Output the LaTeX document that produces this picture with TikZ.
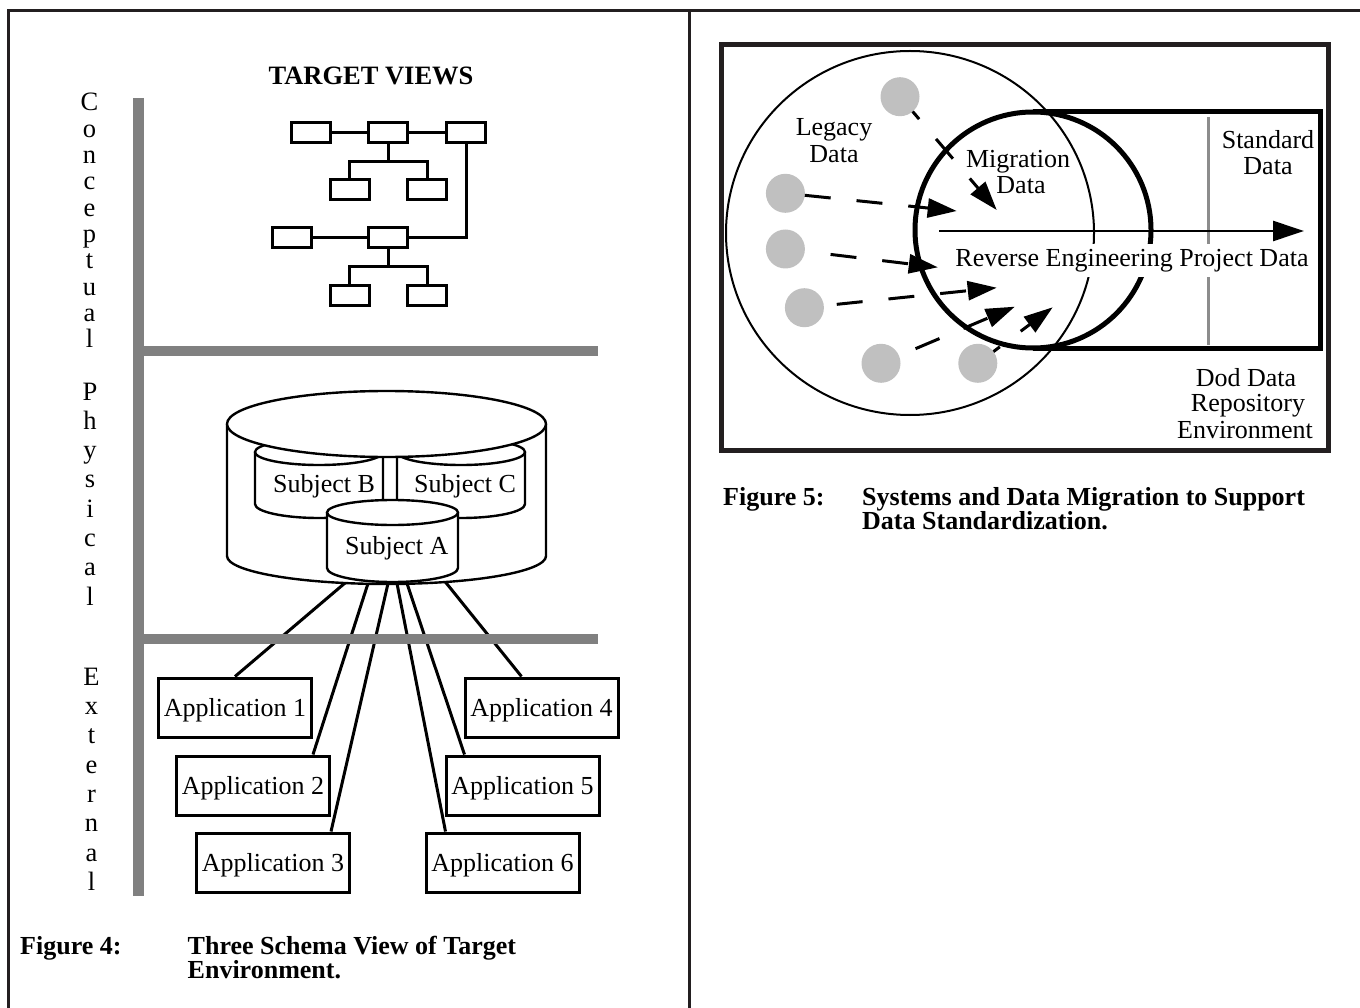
\documentclass[tikz,border=0pt]{standalone}
\usepackage{fontspec}
\setmainfont{Liberation Serif}
\usetikzlibrary{arrows.meta,calc}

\definecolor{ink}{HTML}{231F20}
\definecolor{bargray}{HTML}{808080}
\definecolor{dotgray}{HTML}{C0C0C0}
\definecolor{rulegray}{HTML}{8C8C8C}

% side walls and lower rim of a drum: centre x, lid centre y, base centre y, x radius, base y radius
\newcommand\drumwall[5]{%
  \filldraw[drum] ({#1-#4},#2) -- ({#1-#4},#3)
    .. controls ({#1-#4},{#3+0.5523*#5}) and ({#1-0.5523*#4},{#3+#5}) .. (#1,{#3+#5})
    .. controls ({#1+0.5523*#4},{#3+#5}) and ({#1+#4},{#3+0.5523*#5}) .. ({#1+#4},#3)
    -- ({#1+#4},#2);}
% elliptic lid of a drum: centre x, centre y, x radius, y radius
\newcommand\drumlid[4]{\filldraw[drum] (#1,#2) ellipse [x radius=#3, y radius=#4];}

\begin{document}
\begin{tikzpicture}[x=1pt,y=-1pt,
  frame/.style={draw=ink, line width=3pt},
  bar/.style={draw=bargray, line width=10.5pt},
  drum/.style={draw=black, fill=white, line width=2.4pt},
  tbox/.style={draw=black, line width=3pt, minimum width=39pt, minimum height=20pt, inner sep=0pt},
  tlink/.style={draw=black, line width=3pt},
  appbox/.style={draw=black, line width=3pt, minimum width=153pt, minimum height=59pt,
                 inner sep=0pt, text depth=0pt, font=\fontsize{26}{30}\selectfont},
  applink/.style={draw=black, line width=3pt},
  lbl/.style={inner sep=0pt, font=\fontsize{26}{30}\selectfont},
  vlet/.style={inner sep=0pt, anchor=base, font=\fontsize{26.5}{30}\selectfont},
  captext/.style={inner sep=0pt, anchor=base west, font=\fontsize{26}{30}\selectfont\bfseries},
  dot/.style={circle, fill=dotgray, minimum size=39pt, inner sep=0pt, outer sep=0pt},
  dart/.style={draw=black, line width=3pt, dash pattern=on 26pt off 26pt,
               -{Triangle[length=29pt,width=19pt]}},
]
\useasboundingbox (0,0) rectangle (1360,1008);

% ---------- page frame ----------
\draw[frame] (8,1008) -- (8,10.5) -- (1360,10.5);
\draw[frame] (689.3,10.5) -- (689.3,1008);

% ---------- Figure 4: three schema view ----------
\node[lbl, anchor=base, font=\fontsize{26.5}{30}\selectfont\bfseries] (tview) at (371,85) {TARGET VIEWS};

% conceptual layer: two linked hierarchies
\node[tbox] (tv1) at (311,133) {};
\node[tbox] (tv2) at (388,133) {};
\node[tbox] (tv3) at (466,133) {};
\node[tbox] (tv4) at (349.5,190) {};
\node[tbox] (tv5) at (427,190) {};
\node[tbox] (tv6) at (292,238) {};
\node[tbox] (tv7) at (388,238) {};
\node[tbox] (tv8) at (349.5,296) {};
\node[tbox] (tv9) at (427,296) {};
\coordinate (j1) at (388,162);
\coordinate (j2) at (388,267);
\draw[tlink] (tv1) -- (tv2);
\draw[tlink] (tv2) -- (tv3);
\draw[tlink] (tv2.south) -- (j1);
\draw[tlink] (tv4.north) -- (tv4.north |- j1) -- (tv5.north |- j1) -- (tv5.north);
\draw[tlink] (tv6) -- (tv7);
\draw[tlink] (tv7.east) -| (tv3.south);
\draw[tlink] (tv7.south) -- (j2);
\draw[tlink] (tv8.north) -- (tv8.north |- j2) -- (tv9.north |- j2) -- (tv9.north);

% external layer: applications
\node[appbox] (app1) at (235,707.5) {Application 1};
\node[appbox] (app2) at (253,785.5) {Application 2};
\node[appbox] (app3) at (273,862.5) {Application 3};
\node[appbox] (app4) at (541.5,707.5) {Application 4};
\node[appbox] (app5) at (522.5,785.5) {Application 5};
\node[appbox] (app6) at (502.5,862.5) {Application 6};

% links from the store to the applications
\coordinate (s1) at (345,583);
\coordinate (s2) at (368,583.5);
\coordinate (s3) at (388,583.5);
\coordinate (s4) at (445,581.5);
\coordinate (s5) at (407,583.5);
\coordinate (s6) at (397,583.5);
\draw[applink] (s1) -- (app1.north);
\draw[applink] (s2) -- ([xshift=-18pt]app2.north east);
\draw[applink] (s3) -- ([xshift=-20pt]app3.north east);
\draw[applink] (s4) -- ([xshift=-20pt]app4.north);
\draw[applink] (s5) -- ([xshift=20pt]app5.north west);
\draw[applink] (s6) -- ([xshift=21pt]app6.north west);

% physical layer: the store holding three subject areas
\drumwall{386.5}{424}{556}{159.5}{28}
\drumwall{319}{452}{504}{64}{14}
\drumlid{319}{452}{64}{13}
\drumwall{461}{452}{504}{64}{14}
\drumlid{461}{452}{64}{13}
\drumlid{386.5}{424}{159.5}{33}
\drumwall{392.5}{512.5}{568}{65.5}{14}
\drumlid{392.5}{512.5}{65.5}{12.5}
\node[lbl, anchor=base] (subb) at (324,492.7) {Subject B};
\node[lbl, anchor=base] (subc) at (465,492.7) {Subject C};
\node[lbl, anchor=base] (suba) at (396.7,554.3) {Subject A};

% layer separators
\draw[bar] (138.5,98) -- (138.5,896);
\draw[bar] (133.5,351) -- (598,351);
\draw[bar] (133.5,639) -- (598,639);

% layer names
\foreach \ch [count=\i from 0] in {C,o,n,c,e,p,t,u,a,l}
  \node[vlet] (con\i) at (89.5,{111+26.3*\i}) {\ch};
\foreach \ch [count=\i from 0] in {P,h,y,s,i,c,a,l}
  \node[vlet] (phy\i) at (90,{400+29.3*\i}) {\ch};
\foreach \ch [count=\i from 0] in {E,x,t,e,r,n,a,l}
  \node[vlet] (ext\i) at (91.5,{685.3+29.3*\i}) {\ch};

% caption
\node[captext] (cap4a) at (20,954) {Figure 4:};
\node[captext] (cap4b) at (187.5,954) {Three Schema View of Target};
\node[captext] (cap4c) at (187.5,978) {Environment.};

% ---------- Figure 5: data migration ----------
\node[draw=ink, line width=5pt, minimum width=607.5pt, minimum height=405.5pt,
      inner sep=0pt] (env) at (1024.75,247.25) {};

% legacy data region
\draw[line width=2pt] (910,233) ellipse [x radius=184, y radius=182];

% reverse engineering project data band
\node[circle, minimum size=236pt, inner sep=0pt, outer sep=0pt] (mig) at (1033,230) {};
\coordinate (rc) at (1320,348);
\draw[line width=5pt] (mig.north) -| (rc) -- (mig.south);
\draw[line width=5pt] (mig) circle [radius=118];
\draw[rulegray, line width=3pt] (1208.4,117) -- (1208.4,345);

\coordinate (hs) at (939,231);
\coordinate (he) at (1304,231);
\draw[line width=2.5pt, -{Triangle[length=31pt,width=20pt]}] (hs) -- (he);
\node[lbl, anchor=base, fill=white, inner xsep=2pt, inner ysep=5pt] (rev) at (1132,266.7)
  {Reverse Engineering Project Data};

% legacy systems and their migration paths
\node[dot] (d1) at (900,96.7) {};
\node[dot] (d2) at (785.4,193.3) {};
\node[dot] (d3) at (785.4,249) {};
\node[dot] (d4) at (804.4,307.7) {};
\node[dot] (d5) at (881,363.3) {};
\node[dot] (d6) at (977.8,363.3) {};
\coordinate (p1) at (996.7,210);
\coordinate (p2) at (956.7,211);
\coordinate (p3) at (937.8,267.3);
\coordinate (p4) at (996.7,287.7);
\coordinate (p5) at (1014.8,306.7);
\coordinate (p6) at (1052.7,307.3);
\draw[dart, dash phase=16pt] (d1) -- (p1);
\draw[dart, dash phase=0pt] (d2) -- (p2);
\draw[dart, dash phase=26pt] (d3) -- (p3);
\draw[dart, dash phase=39pt] (d4) -- (p4);
\draw[dart, dash phase=34pt] (d5) -- (p5);
\draw[dart, dash phase=18pt] (d6) -- (p6);

% region labels
\node[lbl, anchor=base] (leg1) at (834,136) {Legacy};
\node[lbl, anchor=base] (leg2) at (834,162.7) {Data};
\node[lbl, anchor=base] (mgr1) at (1018,167.3) {Migration};
\node[lbl, anchor=base] (mgr2) at (1021,194) {Data};
\node[lbl, anchor=base] (std1) at (1268,148.3) {Standard};
\node[lbl, anchor=base] (std2) at (1268,175) {Data};
\node[lbl, anchor=base] (dod1) at (1246,386.7) {Dod Data};
\node[lbl, anchor=base] (dod2) at (1248,411.7) {Repository};
\node[lbl, anchor=base] (dod3) at (1245,438.3) {Environment};

% caption
\node[captext] (cap5a) at (723,505) {Figure 5:};
\node[captext] (cap5b) at (862,505) {Systems and Data Migration to Support};
\node[captext] (cap5c) at (862,529) {Data Standardization.};
\end{tikzpicture}
\end{document}
